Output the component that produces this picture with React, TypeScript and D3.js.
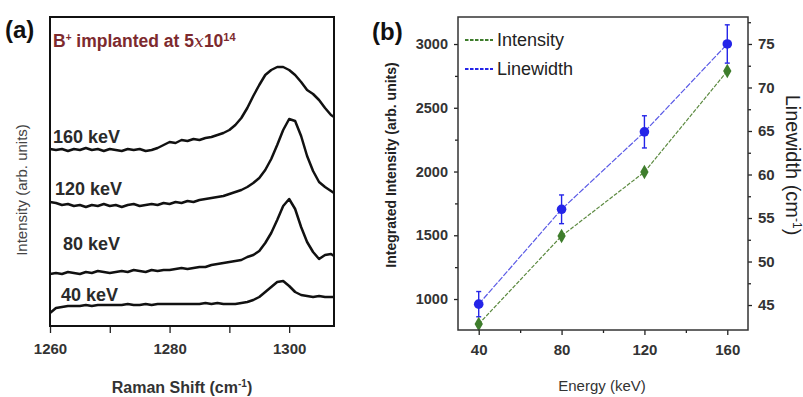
import React, { useRef, useEffect } from "react";
import * as d3 from "d3";

// panel (a): Raman spectra, intensity in arbitrary units (already offset)
const shifts = [
  1260, 1261, 1262, 1263, 1264, 1265, 1266, 1267, 1268, 1269, 1270, 1271,
  1272, 1273, 1274, 1275, 1276, 1277, 1278, 1279, 1280, 1281, 1282, 1283,
  1284, 1285, 1286, 1287, 1288, 1289, 1290, 1291, 1292, 1293, 1294, 1295,
  1296, 1297, 1298, 1299, 1300, 1301, 1302, 1303, 1304, 1305, 1306, 1307, 1307.5,
];
const spec160 = [
  177, 176, 177, 175, 177, 176, 178, 176, 177, 175, 177, 176,
  175, 177, 176, 177, 175, 176, 178, 181, 184, 183, 186, 185,
  187, 186, 188, 189, 191, 193, 196, 201, 208, 218, 230, 241,
  251, 256, 259, 259, 256, 251, 244, 236, 232, 226, 218, 211, 209,
];
const spec120 = [
  124, 123, 121, 122, 120, 121, 119, 121, 120, 122, 120, 121,
  119, 121, 122, 120, 121, 122, 121, 123, 122, 124, 123, 125,
  124, 126, 127, 128, 129, 130, 132, 134, 136, 139, 143, 148,
  156, 167, 181, 196, 207, 205, 190, 170, 155, 144, 139, 135, 133,
];
const spec80 = [
  52, 53, 52, 54, 53, 52, 54, 53, 55, 54, 53, 54,
  55, 54, 56, 55, 54, 56, 55, 56, 56, 57, 58, 57,
  58, 59, 59, 61, 62, 63, 64, 65, 66, 69, 71, 75,
  83, 93, 106, 120, 127, 117, 99, 84, 74, 67, 71, 72, 70,
];
const spec40 = [
  13, 18, 19, 20, 20, 20, 21, 20, 21, 21, 21, 21,
  21, 22, 21, 21, 22, 21, 22, 22, 22, 22, 22, 22,
  22, 22, 23, 22, 23, 22, 22, 22, 23, 24, 26, 29,
  34, 39, 44, 45, 40, 34, 31, 30, 29, 30, 29, 29, 29,
];
const specLabels = ["160 keV", "120 keV", "80 keV", "40 keV"];
const shiftTicks = [1260, 1280, 1300];
const shiftMinor = [1270, 1290];

// panel (b)
const energies = [40, 80, 120, 160];
const intensity = [804, 1494, 1996, 2788];
const linewidth = [45.1, 56, 64.9, 75];
const linewidthErr = [1.45, 1.65, 1.85, 2.2];
const energyTicks = [40, 80, 120, 160];
const energyMinor = [60, 100, 140];
const intensityTicks = [1000, 1500, 2000, 2500, 3000];
const intensityMinor = [1250, 1750, 2250, 2750];
const widthTicks = [45, 50, 55, 60, 65, 70, 75];
const widthMinor = [47.5, 52.5, 57.5, 62.5, 67.5, 72.5, 77.5];

const GREEN = "#3e7d2c";
const BLUE = "#2424e8";

const App = () => {
  const svgRef = useRef(null);

  useEffect(() => {
    const svg = d3.select(svgRef.current);
    svg.selectAll("*").remove();
    const font = "'Liberation Sans', Arial, sans-serif";

    const styleAxis = (g, size, weight, color) => {
      g.select(".domain").remove();
      g.selectAll("line").attr("stroke", "#222").attr("stroke-width", 1.3);
      g.selectAll("text")
        .style("font-family", font)
        .style("font-size", size + "px")
        .style("font-weight", weight)
        .attr("fill", color);
    };

    // ---------- panel (a) ----------
    const a = { left: 50, right: 334, top: 17, bottom: 326 };
    const xa = d3.scaleLinear().domain([1260, 1307.5]).range([a.left, a.right]);
    const ya = d3.scaleLinear().domain([0, 309]).range([a.bottom, a.top]);

    svg.append("g")
      .attr("transform", `translate(0,${a.bottom})`)
      .call(d3.axisBottom(xa).tickValues(shiftTicks).tickSize(7).tickPadding(10).tickFormat(d3.format("d")))
      .call(g => styleAxis(g, 15, "bold", "#333"));
    svg.append("g")
      .attr("transform", `translate(0,${a.bottom})`)
      .call(d3.axisBottom(xa).tickValues(shiftMinor).tickSize(7).tickFormat(() => ""))
      .call(g => styleAxis(g, 15, "bold", "#333"));

    const specLine = d3.line()
      .x((d, i) => xa(shifts[i]))
      .y(d => ya(d))
      .curve(d3.curveLinear);

    [spec160, spec120, spec80, spec40].forEach(s => {
      svg.append("path")
        .datum(s)
        .attr("d", specLine)
        .attr("fill", "none")
        .attr("stroke", "#111")
        .attr("stroke-width", 2.5)
        .attr("stroke-linejoin", "round");
    });

    svg.append("rect")
      .attr("x", a.left).attr("y", a.top)
      .attr("width", a.right - a.left).attr("height", a.bottom - a.top)
      .attr("fill", "none").attr("stroke", "#111").attr("stroke-width", 2);

    const labelPos = [[53, 143], [55, 195], [63, 250], [61, 301]];
    specLabels.forEach((t, i) => {
      svg.append("text")
        .attr("x", labelPos[i][0]).attr("y", labelPos[i][1])
        .style("font-family", font).style("font-size", "18px").style("font-weight", "bold")
        .attr("fill", "#2a2a2a")
        .text(t);
    });

    const title = svg.append("text")
      .attr("x", 53).attr("y", 47)
      .style("font-family", font).style("font-size", "17.5px").style("font-weight", "bold")
      .attr("fill", "#7d2a2e");
    title.append("tspan").text("B");
    title.append("tspan").attr("dy", -6).style("font-size", "10px").text("+");
    title.append("tspan").attr("dy", 6).text(" implanted at 5");
    title.append("tspan").style("font-family", "'DejaVu Serif', serif").style("font-style", "italic")
      .style("font-weight", "normal").text("x");
    title.append("tspan").text("10");
    title.append("tspan").attr("dy", -6).style("font-size", "11px").text("14");

    svg.append("text")
      .attr("transform", "translate(27,190) rotate(-90)")
      .attr("text-anchor", "middle")
      .style("font-family", font).style("font-size", "15px")
      .attr("fill", "#444")
      .text("Intensity (arb. units)");

    const xaTitle = svg.append("text")
      .attr("x", 182).attr("y", 393)
      .attr("text-anchor", "middle")
      .style("font-family", font).style("font-size", "16px").style("font-weight", "bold")
      .attr("fill", "#333");
    xaTitle.append("tspan").text("Raman Shift (cm");
    xaTitle.append("tspan").attr("dy", -6).style("font-size", "10px").text("-1");
    xaTitle.append("tspan").attr("dy", 6).text(")");

    svg.append("text")
      .attr("x", 5).attr("y", 38)
      .style("font-family", font).style("font-size", "24px").style("font-weight", "bold")
      .attr("fill", "#111")
      .text("(a)");

    // ---------- panel (b) ----------
    const b = { left: 458, right: 748, top: 17, bottom: 330 };
    const xb = d3.scaleLinear().domain([30, 170]).range([b.left, b.right]);
    const yl = d3.scaleLinear().domain([757, 3212]).range([b.bottom, b.top]);
    const yr = d3.scaleLinear().domain([42.13, 78.1]).range([b.bottom, b.top]);

    svg.append("g")
      .attr("transform", `translate(0,${b.bottom})`)
      .call(d3.axisBottom(xb).tickValues(energyTicks).tickSize(5).tickPadding(9).tickFormat(d3.format("d")))
      .call(g => styleAxis(g, 15, "bold", "#333"));
    svg.append("g")
      .attr("transform", `translate(0,${b.bottom})`)
      .call(d3.axisBottom(xb).tickValues(energyMinor).tickSize(3).tickFormat(() => ""))
      .call(g => styleAxis(g, 15, "bold", "#333"));
    svg.append("g")
      .attr("transform", `translate(${b.left},0)`)
      .call(d3.axisLeft(yl).tickValues(intensityTicks).tickSize(4).tickPadding(6).tickFormat(d3.format("d")))
      .call(g => styleAxis(g, 14.5, "bold", "#333"));
    svg.append("g")
      .attr("transform", `translate(${b.left},0)`)
      .call(d3.axisLeft(yl).tickValues(intensityMinor).tickSize(3).tickFormat(() => ""))
      .call(g => styleAxis(g, 14.5, "bold", "#333"));
    svg.append("g")
      .attr("transform", `translate(${b.right},0)`)
      .call(d3.axisRight(yr).tickValues(widthTicks).tickSize(4).tickPadding(6).tickFormat(d3.format("d")))
      .call(g => styleAxis(g, 15, "bold", "#333"));
    svg.append("g")
      .attr("transform", `translate(${b.right},0)`)
      .call(d3.axisRight(yr).tickValues(widthMinor).tickSize(3).tickFormat(() => ""))
      .call(g => styleAxis(g, 15, "bold", "#333"));

    const intLine = d3.line().x((d, i) => xb(energies[i])).y(d => yl(d));
    const lwLine = d3.line().x((d, i) => xb(energies[i])).y(d => yr(d));

    svg.append("path").datum(intensity).attr("d", intLine)
      .attr("fill", "none").attr("stroke", "#5c8a40").attr("stroke-width", 1.2)
      .attr("stroke-dasharray", "4,1.5");
    svg.append("path").datum(linewidth).attr("d", lwLine)
      .attr("fill", "none").attr("stroke", "#5a5ae6").attr("stroke-width", 1.2)
      .attr("stroke-dasharray", "6,1.5");

    // error bars on linewidth
    const eb = svg.append("g").attr("stroke", BLUE).attr("stroke-width", 1.4);
    linewidth.forEach((v, i) => {
      const x = xb(energies[i]);
      const y0 = yr(v - linewidthErr[i]);
      const y1 = yr(v + linewidthErr[i]);
      eb.append("line").attr("x1", x).attr("x2", x).attr("y1", y0).attr("y2", y1);
      eb.append("line").attr("x1", x - 2.5).attr("x2", x + 2.5).attr("y1", y0).attr("y2", y0);
      eb.append("line").attr("x1", x - 2.5).attr("x2", x + 2.5).attr("y1", y1).attr("y2", y1);
    });

    svg.append("g").selectAll("path")
      .data(intensity)
      .join("path")
      .attr("d", d3.symbol(d3.symbolDiamond, 60))
      .attr("transform", (d, i) => `translate(${xb(energies[i])},${yl(d)})`)
      .attr("fill", GREEN);

    svg.append("g").selectAll("circle")
      .data(linewidth)
      .join("circle")
      .attr("cx", (d, i) => xb(energies[i]))
      .attr("cy", d => yr(d))
      .attr("r", 4.8)
      .attr("fill", BLUE);

    svg.append("rect")
      .attr("x", b.left).attr("y", b.top)
      .attr("width", b.right - b.left).attr("height", b.bottom - b.top)
      .attr("fill", "none").attr("stroke", "#333").attr("stroke-width", 1.5);

    // legend
    const legend = [
      { label: "Intensity", color: GREEN, y: 40 },
      { label: "Linewidth", color: BLUE, y: 69 },
    ];
    legend.forEach(l => {
      svg.append("line")
        .attr("x1", 465).attr("x2", 493).attr("y1", l.y).attr("y2", l.y)
        .attr("stroke", l.color).attr("stroke-width", 2).attr("stroke-dasharray", "3.5,1.5");
      svg.append("text")
        .attr("x", 497).attr("y", l.y + 6)
        .style("font-family", font).style("font-size", "18px")
        .attr("fill", "#222")
        .text(l.label);
    });

    svg.append("text")
      .attr("transform", "translate(396,165) rotate(-90)")
      .attr("text-anchor", "middle")
      .style("font-family", font).style("font-size", "14px").style("font-weight", "bold")
      .attr("fill", "#222")
      .text("Integrated Intensity (arb. units)");

    const rTitle = svg.append("text")
      .attr("transform", "translate(786,165) rotate(90)")
      .attr("text-anchor", "middle")
      .style("font-family", font).style("font-size", "20px")
      .attr("fill", "#222");
    rTitle.append("tspan").text("Linewidth (cm");
    rTitle.append("tspan").attr("dy", -7).style("font-size", "12px").text("-1");
    rTitle.append("tspan").attr("dy", 7).text(")");

    svg.append("text")
      .attr("x", 602).attr("y", 391)
      .attr("text-anchor", "middle")
      .style("font-family", font).style("font-size", "15px")
      .attr("fill", "#333")
      .text("Energy (keV)");

    svg.append("text")
      .attr("x", 372).attr("y", 40)
      .style("font-family", font).style("font-size", "24px").style("font-weight", "bold")
      .attr("fill", "#111")
      .text("(b)");
  }, []);

  return (
    <svg
      ref={svgRef}
      width={803}
      height={397}
      style={{ position: "absolute", left: 0, top: 0, background: "#fff", display: "block" }}
    />
  );
};

export default App;
